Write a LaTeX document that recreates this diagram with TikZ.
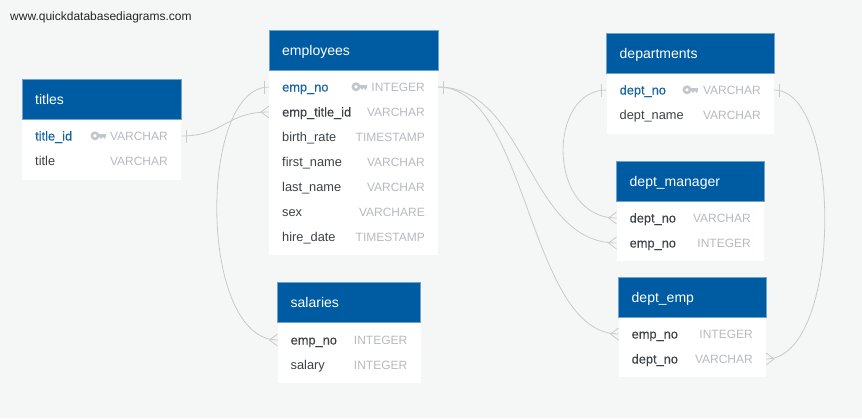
\documentclass[tikz,border=0pt]{standalone}
\usepackage{fontspec}
\setmainfont{Liberation Sans}
\newfontfamily\medfont[FakeBold=0.15]{Liberation Sans}
\definecolor{pagebg}{HTML}{F5F7F7}
\definecolor{headblue}{HTML}{005CA2}
\definecolor{headedge}{HTML}{6FA3CB}
\definecolor{pkblue}{HTML}{1463A3}
\definecolor{namegrey}{HTML}{3C4148}
\definecolor{typegrey}{HTML}{B7BABF}
\definecolor{keygrey}{HTML}{C3C6CC}
\definecolor{linkgrey}{HTML}{C9CBCA}
\tikzset{
  x=1pt,y=-1pt,
  tbody/.style={fill=white,draw=none,anchor=north west,inner sep=0,outer sep=0},
  thead/.style={fill=headblue,draw=headedge,line width=0.5pt,anchor=north west,inner sep=0,outer sep=0},
  ttitle/.style={anchor=base west,text=white,font=\fontsize{14}{16}\selectfont,inner sep=0},
  rowbox/.style={anchor=west,inner sep=0,outer sep=0,minimum height=20pt},
  rowname/.style={anchor=base west,inner sep=0,text=namegrey,font=\fontsize{12.8}{15}\selectfont},
  rowfk/.style={anchor=base west,inner sep=0,text=namegrey,font=\fontsize{12.8}{15}\medfont},
  rowpk/.style={anchor=base west,inner sep=0,text=pkblue,font=\fontsize{12.8}{15}\medfont},
  rowtype/.style={anchor=base east,inner sep=0,text=typegrey,font=\fontsize{12}{15}\selectfont},
  link/.style={draw=linkgrey,line width=0.8pt},
}
% id, x0, x1, top, bottom, title
\newcommand{\dbtable}[6]{%
  \pgfmathsetlengthmacro{\tw}{#3-#2}%
  \pgfmathsetlengthmacro{\th}{#5-#4}%
  \node[tbody,minimum width=\tw,minimum height=\th] (#1) at (#2,#4) {};
  \node[thead,minimum width=\tw,minimum height=40pt] (#1-head) at (#2,#4) {};
  \node[ttitle] (#1-title) at (#2+13,#4+25) {#6};
}
% id, x0, x1, y, style, name, type
\newcommand{\dbrow}[7]{%
  \pgfmathsetlengthmacro{\tw}{#3-#2}%
  \node[rowbox,minimum width=\tw] (#1) at (#2,#4) {};
  \node[#5] (#1-name) at (#2+13,#4+4.5) {#6};
  \node[rowtype] (#1-type) at (#3-13,#4+4.5) {#7};
}
% key glyph whose right end is at x,y
\newcommand{\keyicon}[2]{%
  \begin{scope}[shift={(#1,#2)}]
    \draw[keygrey,line width=2.6pt] (-11,-0.2) circle[radius=3.1];
    \fill[keygrey] (-8.5,-2) -- (0,-2) -- (0,0.6) -- (-1.4,3) -- (-2.8,1.2) -- (-3.6,1.2) -- (-5,3) -- (-6.4,1.2) -- (-8.5,1.2) -- cycle;
  \end{scope}%
}
\newcommand{\oneL}[1]{\draw[link] ([xshift=-5pt]#1.west) ++(0,-6.5) -- ++(0,13);}
\newcommand{\oneR}[1]{\draw[link] ([xshift=5pt]#1.east) ++(0,-6.5) -- ++(0,13);}
\newcommand{\manyL}[1]{\draw[link] (#1.west) ++(0,-6) -- ++(-8,6) -- ++(8,6);}
\newcommand{\manyR}[1]{\draw[link] (#1.east) ++(0,-6) -- ++(8,6) -- ++(-8,6);}
\begin{document}
\begin{tikzpicture}
\useasboundingbox (0,0) rectangle (862,418);
\fill[pagebg] (0,0) rectangle (862,418);
\node[anchor=base west,inner sep=0,text=black!85,font=\fontsize{12}{13}\selectfont] (wm) at (10,20) {www.quickdatabasediagrams.com};

\dbtable{titles}{22}{181}{79.5}{179.5}{titles}
\dbrow{t1}{22}{181}{136}{rowpk}{title\_id}{VARCHAR}
\dbrow{t2}{22}{181}{161}{rowname}{title}{VARCHAR}
\keyicon{106}{136}

\dbtable{employees}{269}{438}{30}{255}{employees}
\dbrow{e1}{269}{438}{87}{rowpk}{emp\_no}{INTEGER}
\dbrow{e2}{269}{438}{112}{rowfk}{emp\_title\_id}{VARCHAR}
\dbrow{e3}{269}{438}{137}{rowname}{birth\_rate}{TIMESTAMP}
\dbrow{e4}{269}{438}{162}{rowname}{first\_name}{VARCHAR}
\dbrow{e5}{269}{438}{187}{rowname}{last\_name}{VARCHAR}
\dbrow{e6}{269}{438}{212}{rowname}{sex}{VARCHARE}
\dbrow{e7}{269}{438}{237}{rowname}{hire\_date}{TIMESTAMP}
\keyicon{367}{87}

\dbtable{salaries}{277.5}{420.5}{282.5}{382.5}{salaries}
\dbrow{s1}{277.5}{420.5}{340}{rowfk}{emp\_no}{INTEGER}
\dbrow{s2}{277.5}{420.5}{365}{rowname}{salary}{INTEGER}

\dbtable{departments}{606.5}{774}{33.5}{133.5}{departments}
\dbrow{d1}{606.5}{774}{90}{rowpk}{dept\_no}{VARCHAR}
\dbrow{d2}{606.5}{774}{115}{rowname}{dept\_name}{VARCHAR}
\keyicon{698}{90}

\dbtable{manager}{616.5}{764}{161}{261}{dept\_manager}
\dbrow{m1}{616.5}{764}{218}{rowfk}{dept\_no}{VARCHAR}
\dbrow{m2}{616.5}{764}{243}{rowfk}{emp\_no}{INTEGER}

\dbtable{deptemp}{618.5}{766}{277}{377}{dept\_emp}
\dbrow{p1}{618.5}{766}{334}{rowfk}{emp\_no}{INTEGER}
\dbrow{p2}{618.5}{766}{359}{rowfk}{dept\_no}{VARCHAR}

% connectors
\draw[link] (t1.east) .. controls (225,136) and (225,112) .. (e2.west);
\draw[link] (e1.west) .. controls (198,87) and (198,340) .. (s1.west);
\draw[link] (e1.east) .. controls (527,87) and (527,243) .. (m2.west);
\draw[link] (e1.east) .. controls (528,87) and (528,334) .. (p1.west);
\draw[link] (d1.west) .. controls (547,90) and (547,218) .. (m1.west);
\draw[link] (d1.east) .. controls (843,90) and (843,359) .. (p2.east);

\oneR{t1}
\oneL{e1}
\oneR{e1}
\oneL{d1}
\oneR{d1}
\manyL{e2}
\manyL{s1}
\manyL{m1}
\manyL{m2}
\manyL{p1}
\manyR{p2}
\end{tikzpicture}
\end{document}
